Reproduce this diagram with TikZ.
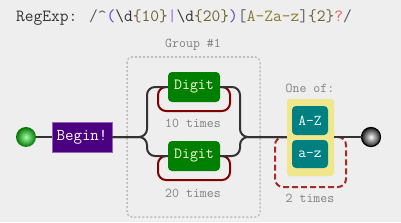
\documentclass[tikz,border=0pt]{standalone}
\usepackage{fontspec}
\definecolor{bg}{RGB}{238,238,238}
\definecolor{conn}{RGB}{51,51,51}
\definecolor{loopred}{RGB}{128,0,0}
\definecolor{dashred}{RGB}{165,42,42}
\definecolor{indigo}{RGB}{75,0,130}
\definecolor{digitgreen}{RGB}{0,128,0}
\definecolor{tealc}{RGB}{0,128,128}
\definecolor{khakic}{RGB}{240,230,140}
\definecolor{labelgray}{RGB}{128,128,128}
\definecolor{grpgray}{RGB}{190,190,190}
\definecolor{tdark}{RGB}{51,51,51}
\definecolor{tslash}{RGB}{90,90,90}
\definecolor{tblue}{RGB}{60,60,230}
\definecolor{tpipe}{RGB}{150,100,255}
\definecolor{tbrace}{RGB}{110,95,50}
\definecolor{tolive}{RGB}{140,120,50}
\definecolor{tred}{RGB}{230,100,90}
\tikzset{
  connline/.style={draw=conn, line width=2pt, rounded corners=8pt},
  redloop/.style={draw=loopred, line width=2pt, rounded corners=8pt},
  dashloop/.style={draw=dashred, line width=2pt, rounded corners=8pt, dash pattern=on 6pt off 3pt},
  lbl/.style={text=labelgray, font=\ttfamily\fontsize{13.5}{15}\selectfont, inner sep=0pt},
  digitbox/.style={fill=digitgreen, rounded corners=4pt, minimum width=52pt, minimum height=30pt, inner sep=0pt, text=white!88!yellow, font=\ttfamily\fontsize{15.5}{17}\selectfont},
  rangebox/.style={fill=tealc, rounded corners=4pt, minimum width=36pt, minimum height=29pt, inner sep=0pt, text=white, font=\ttfamily\fontsize{15}{16}\selectfont},
}
\begin{document}
\begin{tikzpicture}[x=1pt,y=-1pt]
\useasboundingbox[fill=bg] (0,0) rectangle (401,222);
% title
\node[anchor=base west, inner sep=0pt, font=\ttfamily\fontsize{17}{19}\selectfont] (title) at (16,22)
{\textcolor{tdark}{RegExp:} \textcolor{tslash}{/\textasciicircum}\textcolor{tblue}{(}\textcolor{tdark}{\textbackslash d}\textcolor{tbrace}{\{10\}}\textcolor{tpipe}{|}\textcolor{tdark}{\textbackslash d}\textcolor{tbrace}{\{20\}}\textcolor{tblue}{)}\textcolor{tslash}{[}\textcolor{tolive}{A-Za-z}\textcolor{tslash}{]}\textcolor{tbrace}{\{2\}}\textcolor{tred}{?}\textcolor{tslash}{/}};
% group box
\draw[grpgray, line width=1.5pt, dash pattern=on 2pt off 2pt, rounded corners=5pt] (127,57) rectangle (260,217);
\node[lbl] (grp) at (193,45) {Group \#1};
% coordinates
\coordinate (sl) at (147,137);
\coordinate (sr) at (240,137);
% loops under digits
\draw[redloop] (160,87) -- (158,87) -- (158,111) -- (230,111) -- (230,87) -- (228,87);
\draw[redloop] (160,156) -- (158,156) -- (158,180) -- (230,180) -- (230,156) -- (228,156);
% dashed loop under choice
\draw[dashloop] (287,137) -- (275,137) -- (275,187) -- (346,187) -- (346,137) -- (334,137);
% nodes
\shade[inner color=green!35!white, outer color=green!45!black] (26,137) circle (10pt);
\coordinate (startc) at (36,137);
\node[fill=indigo, draw=indigo!60!white, line width=0.8pt, minimum width=60pt, minimum height=30pt, inner sep=0pt, text=white!90!pink, font=\ttfamily\fontsize{16.5}{18}\selectfont] (begin) at (82,137) {Begin!};
\node[digitbox] (d1) at (194,87) {Digit};
\node[digitbox] (d2) at (194,156) {Digit};
\node[lbl] (t10) at (193,123) {10 times};
\node[lbl] (t20) at (193,193) {20 times};
\node[fill=khakic, rounded corners=3pt, minimum width=47pt, minimum height=77pt, inner sep=0pt] (choice) at (310.5,137.5) {};
\node[rangebox] (AZ) at (310,120.5) {A-Z};
\node[rangebox, minimum height=28pt] (az) at (310,154) {a-z};
\node[lbl] (oneof) at (310,88) {One of:};
\node[lbl] (t2) at (310,198) {2 times};
\shade[inner color=white!95!gray, outer color=gray!25!black] (371,137) circle (9.5pt);
\draw[black, line width=1.2pt] (371,137) circle (9.5pt);
\coordinate (endc) at (361.5,137);
% connectors
\draw[conn, line width=2pt] (startc) -- (begin.west);
\draw[connline] (begin.east) -- (sl) |- (d1.west);
\draw[connline] (begin.east) -- (sl) |- (d2.west);
\draw[connline] (d1.east) -| (sr) -- (choice.west |- sr);
\draw[connline] (d2.east) -| (sr) -- (choice.west |- sr);
\draw[conn, line width=2pt] (choice.east |- sr) -- (endc);
\end{tikzpicture}
\end{document}
